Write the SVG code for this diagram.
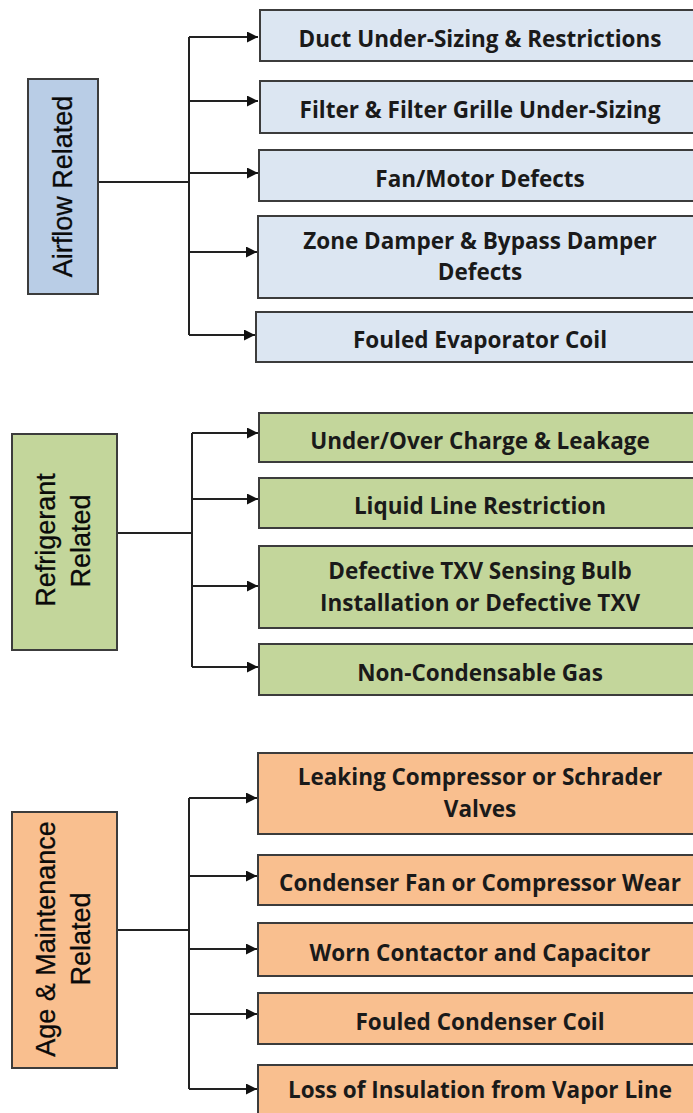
<svg xmlns="http://www.w3.org/2000/svg" width="693" height="1113" viewBox="0 0 693 1113">
<defs>
<style>
.cat{stroke:#3c3c3c;stroke-width:2}
.item{stroke:#3c3c3c;stroke-width:2}
.blue-cat{fill:#b9cde6}
.blue{fill:#dce6f2}
.green{fill:#c3d69b}
.orange{fill:#f9bf8f}
.ct{font-family:"Liberation Sans",Arial,sans-serif;font-size:27px;fill:#0a0a0a;text-anchor:middle;stroke:#0a0a0a;stroke-width:0.3}
.it{font-family:"Open Sans",Lato,sans-serif;font-weight:700;font-size:22.5px;fill:#1a1a1a;text-anchor:middle}
.conn{fill:none;stroke:#222;stroke-width:2}
</style>
<marker id="arr" viewBox="0 0 10 10" refX="10" refY="5" markerWidth="6.5" markerHeight="5.5" markerUnits="strokeWidth" orient="auto">
<path d="M0,0 L10,5 L0,10 Z" fill="#111"/>
</marker>
</defs>
<rect width="693" height="1113" fill="#fff"/>

<g id="connectors">
<path class="conn" d="M98,182 H189 M189,37 V335"/>
<path class="conn" marker-end="url(#arr)" d="M189,37 H258"/>
<path class="conn" marker-end="url(#arr)" d="M189,101 H258"/>
<path class="conn" marker-end="url(#arr)" d="M189,173 H258"/>
<path class="conn" marker-end="url(#arr)" d="M189,252 H257"/>
<path class="conn" marker-end="url(#arr)" d="M189,335 H255"/>

<path class="conn" d="M117,533 H192 M192,433 V667"/>
<path class="conn" marker-end="url(#arr)" d="M192,433 H258"/>
<path class="conn" marker-end="url(#arr)" d="M192,499 H258"/>
<path class="conn" marker-end="url(#arr)" d="M192,586 H258"/>
<path class="conn" marker-end="url(#arr)" d="M192,667 H258"/>

<path class="conn" d="M117,930 H189 M189,798 V1089"/>
<path class="conn" marker-end="url(#arr)" d="M189,798 H257"/>
<path class="conn" marker-end="url(#arr)" d="M189,876 H257"/>
<path class="conn" marker-end="url(#arr)" d="M189,949 H257"/>
<path class="conn" marker-end="url(#arr)" d="M189,1014 H257"/>
<path class="conn" marker-end="url(#arr)" d="M189,1089 H257"/>
</g>

<g id="cat-airflow">
<rect class="cat blue-cat" x="28" y="79" width="70" height="215"/>
<text class="ct" transform="translate(72,186.5) rotate(-90)">Airflow Related</text>
</g>
<g id="cat-refrigerant">
<rect class="cat green" x="12" y="434" width="105" height="216"/>
<text class="ct" transform="translate(55,540) rotate(-90)">Refrigerant</text>
<text class="ct" transform="translate(90,541) rotate(-90)">Related</text>
</g>
<g id="cat-age">
<rect class="cat orange" x="12" y="812" width="105" height="256"/>
<text class="ct" transform="translate(55,939) rotate(-90)">Age &amp; Maintenance</text>
<text class="ct" transform="translate(90,939) rotate(-90)">Related</text>
</g>

<g id="a1"><rect class="item blue" x="260" y="10" width="450" height="51"/><text class="it" x="480" y="47">Duct Under-Sizing &amp; Restrictions</text></g>
<g id="a2"><rect class="item blue" x="260" y="81" width="450" height="52"/><text class="it" x="480" y="118">Filter &amp; Filter Grille Under-Sizing</text></g>
<g id="a3"><rect class="item blue" x="259" y="150" width="450" height="51"/><text class="it" x="480" y="187">Fan/Motor Defects</text></g>
<g id="a4"><rect class="item blue" x="258" y="216" width="450" height="82"/><text class="it" x="480" y="249">Zone Damper &amp; Bypass Damper</text><text class="it" x="480" y="280">Defects</text></g>
<g id="a5"><rect class="item blue" x="256" y="312" width="450" height="50"/><text class="it" x="480" y="348">Fouled Evaporator Coil</text></g>

<g id="r1"><rect class="item green" x="259" y="413" width="450" height="49"/><text class="it" x="480" y="449">Under/Over Charge &amp; Leakage</text></g>
<g id="r2"><rect class="item green" x="259" y="478" width="450" height="50"/><text class="it" x="480" y="514">Liquid Line Restriction</text></g>
<g id="r3"><rect class="item green" x="259" y="546" width="450" height="82"/><text class="it" x="480" y="579">Defective TXV Sensing Bulb</text><text class="it" x="480" y="611">Installation or Defective TXV</text></g>
<g id="r4"><rect class="item green" x="259" y="644" width="450" height="51"/><text class="it" x="480" y="681">Non-Condensable Gas</text></g>

<g id="m1"><rect class="item orange" x="258" y="753" width="450" height="81"/><text class="it" x="480" y="785">Leaking Compressor or Schrader</text><text class="it" x="480" y="817">Valves</text></g>
<g id="m2"><rect class="item orange" x="258" y="855" width="450" height="50"/><text class="it" x="480" y="891">Condenser Fan or Compressor Wear</text></g>
<g id="m3"><rect class="item orange" x="258" y="923" width="450" height="53"/><text class="it" x="480" y="961">Worn Contactor and Capacitor</text></g>
<g id="m4"><rect class="item orange" x="258" y="993" width="450" height="51"/><text class="it" x="480" y="1030">Fouled Condenser Coil</text></g>
<g id="m5"><rect class="item orange" x="258" y="1065" width="450" height="60"/><text class="it" x="480" y="1098">Loss of Insulation from Vapor Line</text></g>
</svg>
